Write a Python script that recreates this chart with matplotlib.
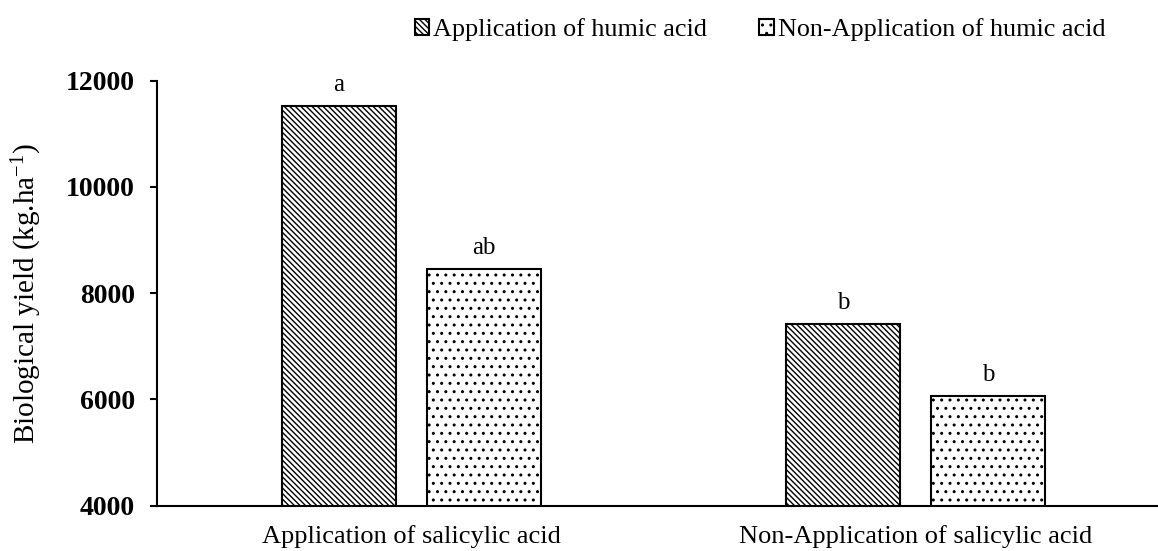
import matplotlib
matplotlib.use('Agg')
import matplotlib.pyplot as plt
import numpy as np

plt.rcParams['font.family'] = ['Liberation Serif', 'DejaVu Serif']
plt.rcParams['mathtext.fontset'] = 'custom'
plt.rcParams['mathtext.rm'] = 'Liberation Serif'
plt.rcParams['mathtext.it'] = 'Liberation Serif:italic'
plt.rcParams['hatch.linewidth'] = 1.0

# data
groups = ['Application of salicylic acid', 'Non-Application of salicylic acid']
series = ['Application of humic acid', 'Non-Application of humic acid']
humic = [11520, 7420]
no_humic = [8455, 6070]
letters_humic = ['a', 'b']
letters_no_humic = ['ab', 'b']

fig = plt.figure(figsize=(11.58, 5.51), dpi=100)
ax = fig.add_axes([157 / 1158, 45.5 / 551, 1 - 157 / 1158, (505.5 - 80.7) / 551])

x = np.arange(len(groups))
w = 0.226
off = 0.1437
b1 = ax.bar(x - off, humic, w, color='white', edgecolor='black', linewidth=1.5,
            hatch='\\' * 6, label=series[0])
b2 = ax.bar(x + off, no_humic, w, color='white', edgecolor='black', linewidth=1.5,
            hatch='..', label=series[1])

for bars, labs in ((b1, letters_humic), (b2, letters_no_humic)):
    for r, t in zip(bars, labs):
        ax.annotate(t, (r.get_x() + r.get_width() / 2, r.get_height()),
                    xytext=(0, 7), textcoords='offset points',
                    ha='center', va='bottom', fontsize=18)

ax.set_ylim(4000, 12000)
ax.set_xlim(-0.5045, 1.48)
ax.set_yticks([4000, 6000, 8000, 10000, 12000])
ax.set_xticks(x)
ax.set_xticklabels(groups, fontsize=19)
for lab in ax.get_yticklabels():
    lab.set_fontweight('bold')
    lab.set_fontsize(20)
ax.tick_params(axis='y', length=5, width=1.5, pad=11)
ax.tick_params(axis='x', length=0, pad=14)
ax.spines['top'].set_visible(False)
ax.spines['right'].set_visible(False)
ax.spines['left'].set_linewidth(1.5)
ax.spines['bottom'].set_linewidth(1.5)

ax.set_ylabel('Biological yield (kg.ha$^{-1}$)', fontsize=21)
ax.yaxis.set_label_coords(-0.113, 0.5)

fig.legend(handles=[b1, b2], loc='center', bbox_to_anchor=(760 / 1158, 1 - 30 / 551),
           ncol=2, frameon=False, fontsize=18.8, handlelength=0.55, handleheight=0.55,
           handletextpad=0.15, columnspacing=2.0)

fig.savefig('out.png', dpi=100)
